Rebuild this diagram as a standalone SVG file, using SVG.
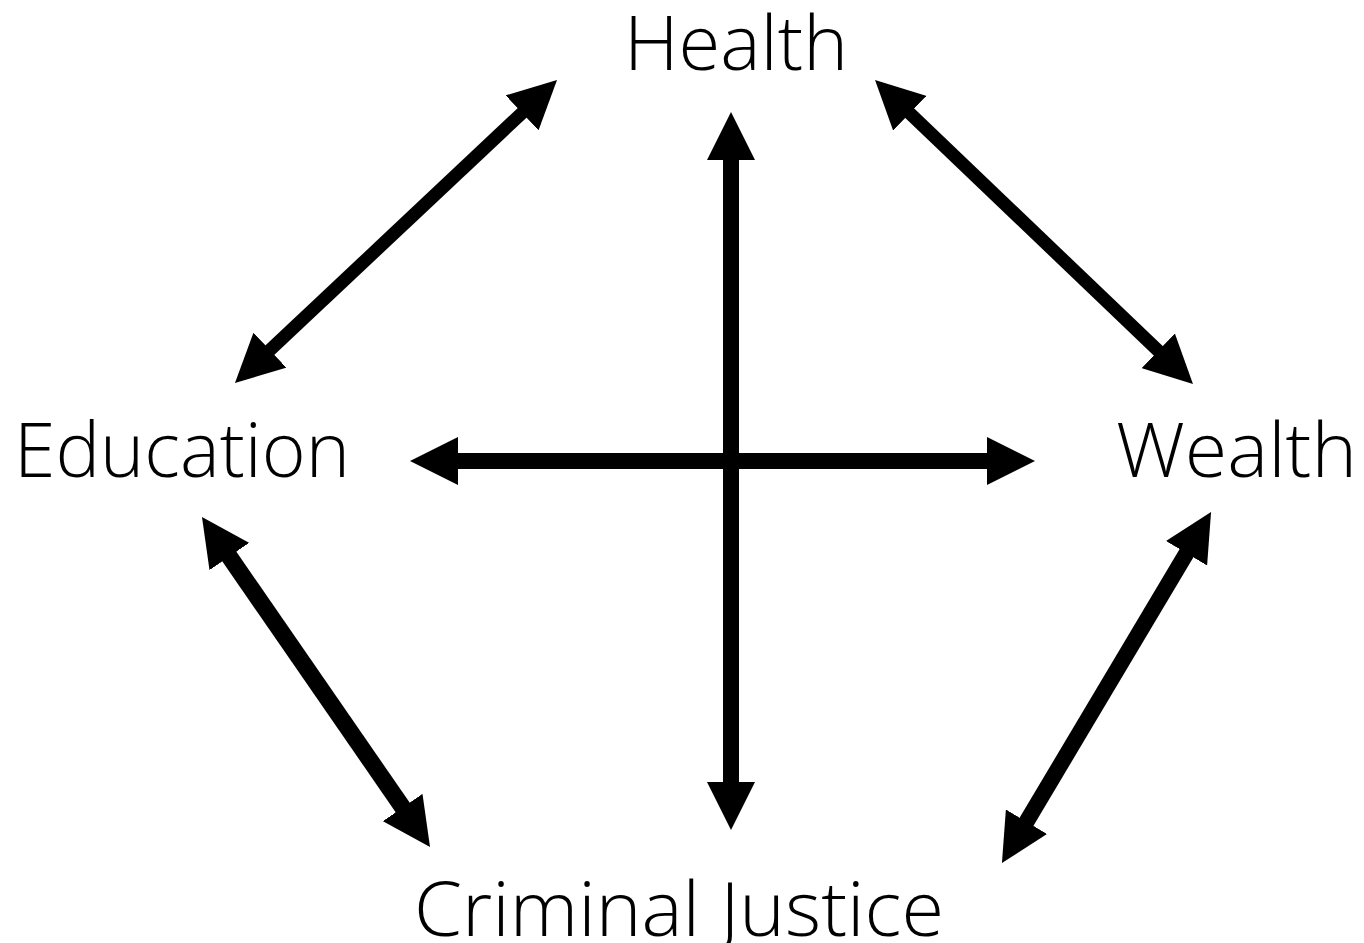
<svg xmlns="http://www.w3.org/2000/svg" width="1364" height="943" viewBox="0 0 1364 943">
<style>
.lbl{font-family:"Open Sans","Noto Sans","Liberation Sans",sans-serif;font-weight:300;font-size:75px;fill:#000}
.arr{stroke:#000;fill:none;stroke-linecap:butt;marker-start:url(#head);marker-end:url(#head)}
</style>
<defs>
<marker id="head" viewBox="0 -24 48 48" refX="1" refY="0" markerWidth="48" markerHeight="48" markerUnits="userSpaceOnUse" orient="auto-start-reverse">
<path d="M0,-24 L48,0 L0,24 Z" fill="#000"/>
</marker>
</defs>
<rect width="1364" height="943" fill="#fff"/>
<g id="connectors">
<line class="arr" x1="731" y1="159" x2="731" y2="783" stroke-width="16"/>
<line class="arr" x1="457" y1="461" x2="988" y2="461" stroke-width="16"/>
<line class="arr" x1="522.8" y1="112.2" x2="269.2" y2="350.8" stroke-width="13"/>
<line class="arr" x1="909" y1="112.5" x2="1159" y2="351.5" stroke-width="13"/>
<line class="arr" x1="228.7" y1="555.7" x2="403.3" y2="808.3" stroke-width="17"/>
<line class="arr" x1="1187" y1="552.4" x2="1026" y2="822.6" stroke-width="16"/>
</g>
<g id="health"><text class="lbl" x="624" y="70" textLength="224" lengthAdjust="spacingAndGlyphs">Health</text></g>
<g id="education"><text class="lbl" x="14" y="477" textLength="336" lengthAdjust="spacingAndGlyphs">Education</text></g>
<g id="wealth"><text class="lbl" x="1116" y="477" textLength="241" lengthAdjust="spacingAndGlyphs">Wealth</text></g>
<g id="criminal-justice"><text class="lbl" x="414" y="936" textLength="530" lengthAdjust="spacingAndGlyphs">Criminal Justice</text></g>
</svg>
